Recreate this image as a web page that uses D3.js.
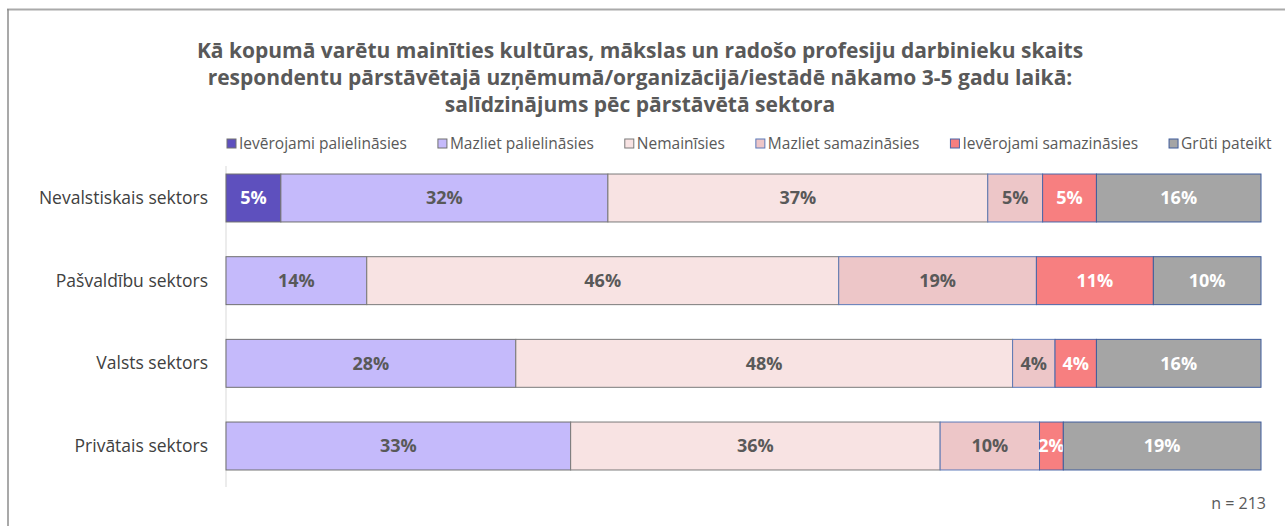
<!DOCTYPE html>
<html>
<head>
<meta charset="utf-8">
<script src="https://cdn.jsdelivr.net/npm/d3@7"></script>
<style>
body { margin: 0; background: #fff; }
svg { display: block; font-family: "Open Sans", "Noto Sans", sans-serif; }
</style>
</head>
<body>
<div id="chart"></div>
<script>
var titleLines = [
	"Kā kopumā varētu mainīties kultūras, mākslas un radošo profesiju darbinieku skaits",
	"respondentu pārstāvētajā uzņēmumā/organizācijā/iestādē nākamo 3-5 gadu laikā:",
	"salīdzinājums pēc pārstāvētā sektora"
];
var sectors = ["Nevalstiskais sektors", "Pašvaldību sektors", "Valsts sektors", "Privātais sektors"];
var seriesNames = ["Ievērojami palielināsies", "Mazliet palielināsies", "Nemainīsies",
	"Mazliet samazināsies", "Ievērojami samazināsies", "Grūti pateikt"];
// values per series, one per sector (percent)
var veryUp   = [5.3, 0, 0, 0];
var bitUp    = [31.6, 13.6, 28.0, 33.3];
var same     = [36.7, 45.6, 48.0, 35.7];
var bitDown  = [5.3, 19.1, 4.1, 9.6];
var veryDown = [5.2, 11.3, 4.0, 2.3];
var hardSay  = [15.9, 10.4, 15.9, 19.1];
var sampleNote = "n = 213";

var fills = ["#5e50be", "#c5bafb", "#f8e3e3", "#edc6c8", "#f77f80", "#a5a5a5"];
var strokes = ["#707070", "#707070", "#7a7a7a", "#5b79b8", "#4a66a8", "#3f5d9c"];
var labelColors = ["#ffffff", "#595959", "#595959", "#595959", "#ffffff", "#ffffff"];

var w = 1285, h = 526;
var margin = {left: 226, right: 24, top: 166, bottom: 48};

var allSeries = [veryUp, bitUp, same, bitDown, veryDown, hardSay];
var rows = sectors.map(function(s, i) {
	var row = {sector: s};
	seriesNames.forEach(function(n, k) { row[n] = allSeries[k][i]; });
	return row;
});
var stacked = d3.stack().keys(seriesNames)(rows);

var svg = d3.select("#chart").append("svg").attr("width", w).attr("height", h);

// frame
svg.append("line").attr("x1", 7).attr("x2", w).attr("y1", 9.5).attr("y2", 9.5)
	.attr("stroke", "#aaaaaa").attr("stroke-width", 2);
svg.append("line").attr("x1", 8).attr("x2", 8).attr("y1", 9).attr("y2", h)
	.attr("stroke", "#8c8c8c").attr("stroke-width", 1.5);

// title
var title = svg.append("text").attr("text-anchor", "middle")
	.attr("font-weight", "bold").attr("font-size", "21px").attr("fill", "#595959");
titleLines.forEach(function(t, i) {
	title.append("tspan").attr("x", 640).attr("y", 58 + i * 27).text(t);
});

var x = d3.scaleLinear().domain([0, 100]).range([margin.left, w - margin.right]);
var y = d3.scaleBand().domain(sectors).range([margin.top, h - margin.bottom]).paddingInner(0.42).paddingOuter(0.097);

// axis line
svg.append("line").attr("x1", margin.left).attr("x2", margin.left)
	.attr("y1", margin.top).attr("y2", 487)
	.attr("stroke", "#d9d9d9").attr("stroke-width", 1);

var layer = svg.selectAll(".layer").data(stacked).enter().append("g").attr("class", "layer");

layer.selectAll("rect")
	.data(function(d) { return d.map(function(p) { p.key = d.key; p.idx = d.index; return p; }); })
	.enter().filter(function(d) { return d[1] - d[0] > 0; })
	.append("rect")
	.attr("x", function(d) { return x(d[0]); })
	.attr("y", function(d) { return y(d.data.sector); })
	.attr("width", function(d) { return x(d[1]) - x(d[0]); })
	.attr("height", y.bandwidth())
	.attr("fill", function(d) { return fills[d.idx]; })
	.attr("stroke", function(d) { return strokes[d.idx]; })
	.attr("stroke-width", 1);

layer.selectAll("text")
	.data(function(d) { return d; })
	.enter().filter(function(d) { return d[1] - d[0] > 0; })
	.append("text")
	.attr("x", function(d) { return (x(d[0]) + x(d[1])) / 2; })
	.attr("y", function(d) { return y(d.data.sector) + y.bandwidth() / 2; })
	.attr("dy", "0.35em")
	.attr("text-anchor", "middle")
	.attr("font-weight", "bold").attr("font-size", "18px")
	.attr("fill", function(d) { return labelColors[d.idx]; })
	.text(function(d) { return Math.round(d[1] - d[0]) + "%"; });

// category labels
svg.selectAll(".cat").data(sectors).enter().append("text")
	.attr("class", "cat")
	.attr("x", 208)
	.attr("y", function(d) { return y(d) + y.bandwidth() / 2; })
	.attr("dy", "0.35em")
	.attr("text-anchor", "end")
	.attr("font-size", "17.5px").attr("fill", "#404040")
	.text(function(d) { return d; });

// legend
var legend = svg.append("g").attr("font-size", "15.5px").attr("fill", "#595959");
var items = legend.selectAll("g").data(seriesNames).enter().append("g");
items.append("rect").attr("width", 9).attr("height", 9).attr("y", -10)
	.attr("fill", function(d, i) { return fills[i]; })
	.attr("stroke", function(d, i) { return strokes[i]; });
items.append("text").attr("x", 12).attr("y", 0).text(function(d) { return d; });
var widths = [];
items.each(function() { widths.push(this.getBBox().width); });
var legStart = 227, legEnd = 1272;
var gap = (legEnd - legStart - d3.sum(widths)) / (widths.length - 1);
var cx = legStart;
items.attr("transform", function(d, i) {
	var t = "translate(" + cx + ",149)";
	cx += widths[i] + gap;
	return t;
});

svg.append("text").attr("x", 1266).attr("y", 509).attr("text-anchor", "end")
	.attr("font-size", "16px").attr("fill", "#595959").text(sampleNote);
</script>
</body>
</html>
